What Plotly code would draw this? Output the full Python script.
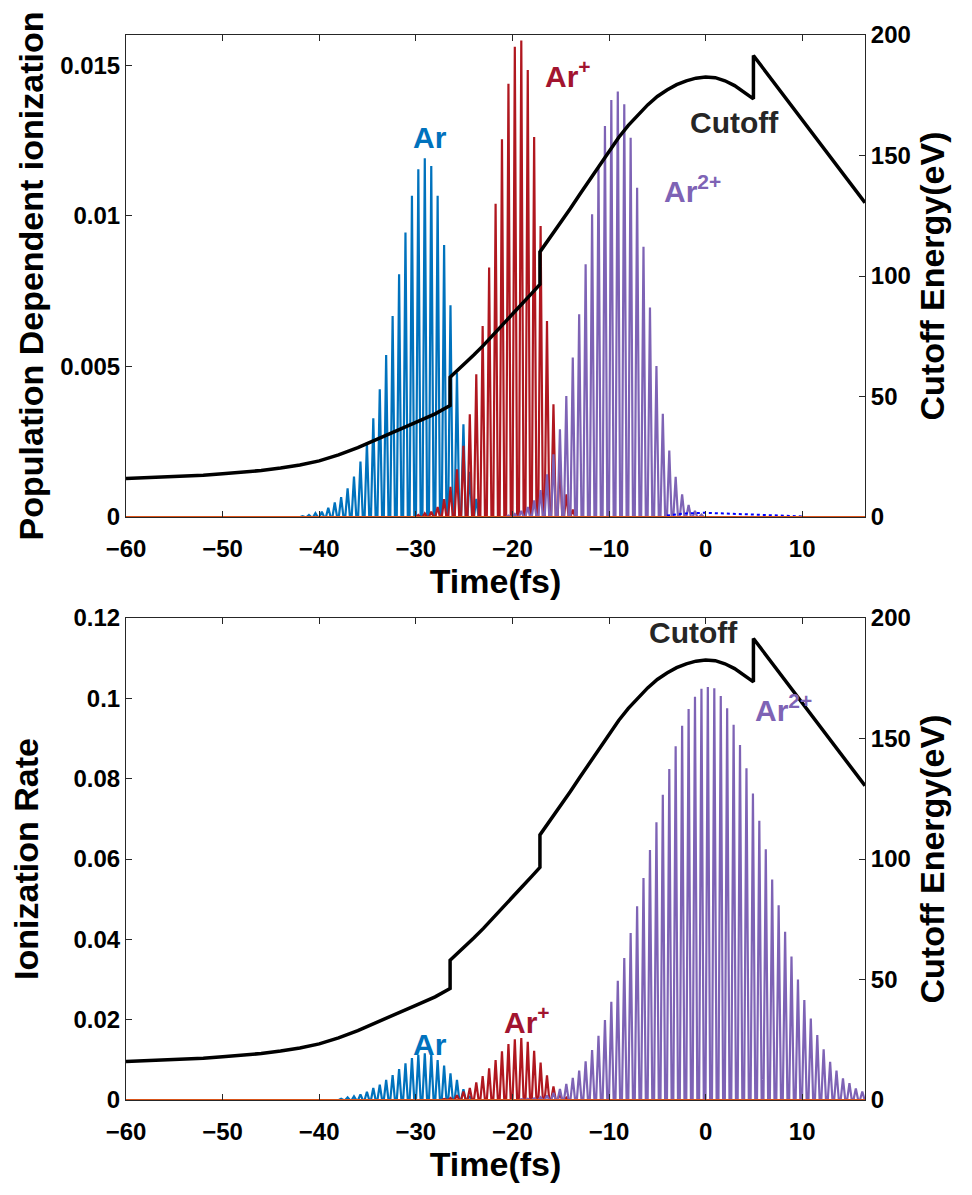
import plotly.graph_objects as go

# burst times (fs) and peak heights
AR_T = [-41.72, -41.06, -40.39, -39.73, -39.06, -38.39, -37.73, -37.06, -36.40, -35.73,
        -35.06, -34.40, -33.73, -33.07, -32.40, -31.73, -31.07, -30.40, -29.74, -29.07,
        -28.40, -27.74, -27.07, -26.41, -25.74, -25.07, -24.41, -23.74]
AR_POP = [0.00003, 0.00007, 0.00013, 0.00018, 0.00031, 0.00048, 0.00066, 0.00095, 0.00134, 0.00184,
          0.00247, 0.00328, 0.00424, 0.00538, 0.00667, 0.00806, 0.00944, 0.01066, 0.01154, 0.01191,
          0.01165, 0.01066, 0.00903, 0.00703, 0.00479, 0.00308, 0.00150, 0.00060]
AR_RATE = [0.0, 0.0, 0.0, 0.0, 0.00010, 0.00017, 0.00033, 0.00066, 0.00091, 0.00141,
           0.00207, 0.00299, 0.00382, 0.00498, 0.00622, 0.00772, 0.00913, 0.01046, 0.01128, 0.01162,
           0.01128, 0.00996, 0.00855, 0.00664, 0.00500, 0.00270, 0.00100, 0.0]

ARP_T = [-29.74, -29.07, -28.40, -27.74, -27.07, -26.41, -25.74, -25.07, -24.41, -23.74,
         -23.08, -22.41, -21.74, -21.08, -20.41, -19.75, -19.08, -18.41, -17.75, -17.08,
         -16.42, -15.75, -15.08, -14.42, -13.75]
ARP_POP = [0.00007, 0.00012, 0.00018, 0.00033, 0.00059, 0.00100, 0.00158, 0.00236, 0.00341, 0.00474,
           0.00634, 0.00828, 0.01040, 0.01254, 0.01438, 0.01561, 0.01582, 0.01484, 0.01261, 0.00966,
           0.00651, 0.00374, 0.00186, 0.00075, 0.00025]
ARP_RATE = [0.0, 0.0, 0.0, 0.00010, 0.00025, 0.00050, 0.00120, 0.00210, 0.00299, 0.00440,
            0.00597, 0.00788, 0.00996, 0.01211, 0.01394, 0.01510, 0.01543, 0.01452, 0.01228, 0.00929,
            0.00614, 0.00340, 0.00150, 0.00060, 0.0]

AR2_T = [-20.41, -19.75, -19.08, -18.41, -17.75, -17.08, -16.42, -15.75, -15.08, -14.42,
         -13.75, -13.09, -12.42, -11.75, -11.09, -10.42, -9.76, -9.09, -8.42, -7.76,
         -7.09, -6.43, -5.76, -5.09, -4.43, -3.76, -3.10, -2.43, -1.76, -1.10,
         -0.43, 0.23, 0.90, 1.57, 2.23, 2.90, 3.56, 4.23, 4.90, 5.56,
         6.23, 6.89, 7.56, 8.23, 8.89, 9.56, 10.22, 10.89, 11.56, 12.22,
         12.89, 13.55, 14.22, 14.89, 15.55, 16.22]
AR2_POP = [0.00005, 0.00010, 0.00020, 0.00033, 0.00055, 0.00089, 0.00142, 0.00208, 0.00291, 0.00402,
           0.00529, 0.00673, 0.00839, 0.01005, 0.01160, 0.01298, 0.01384, 0.01412, 0.01370, 0.01259,
           0.01093, 0.00897, 0.00695, 0.00501, 0.00343, 0.00221, 0.00133, 0.00075, 0.00040, 0.00020,
           0.00008, 0.0, 0.0, 0.0, 0.0, 0.0, 0.0, 0.0, 0.0, 0.0,
           0.0, 0.0, 0.0, 0.0, 0.0, 0.0, 0.0, 0.0, 0.0, 0.0,
           0.0, 0.0, 0.0, 0.0, 0.0, 0.0]
AR2_RATE = [0.0, 0.0, 0.00020, 0.00030, 0.00040, 0.00070, 0.00110, 0.00180, 0.00274, 0.00398,
            0.00548, 0.00730, 0.00963, 0.01245, 0.01601, 0.01992, 0.02448, 0.02971, 0.03535, 0.04157,
            0.04822, 0.05527, 0.06224, 0.06913, 0.07601, 0.08240, 0.08805, 0.09318, 0.09734, 0.10040,
            0.10240, 0.10280, 0.10250, 0.10060, 0.09750, 0.09340, 0.08840, 0.08260, 0.07630, 0.06950,
            0.06240, 0.05490, 0.04850, 0.04190, 0.03570, 0.03000, 0.02490, 0.02030, 0.01620, 0.01260,
            0.00950, 0.00730, 0.00540, 0.00420, 0.00290, 0.00210]

# small dotted trace near zero after the pulse peak (top panel)
AR3_T = [-4.0, -2.0, 0.0, 2.0, 4.0, 6.0, 8.0, 10.0]
AR3_POP = [0.00005, 0.00012, 0.00014, 0.00012, 0.00010, 0.00007, 0.00004, 0.00002]

# cutoff energy (eV) vs time, with the three jumps
CUT_T = [-60, -58, -56, -54, -52, -50, -48, -46, -44, -42, -40, -38, -36, -34, -32, -30, -28, -26.45,
         -26.45, -25, -24, -23, -22, -21, -20, -19, -18, -17.15,
         -17.15, -16, -15, -14, -13, -12, -11, -10, -9, -8, -7, -6, -5, -4, -3, -2, -1,
         0, 1, 2, 3, 4, 4.95,
         4.95, 16.5]
CUT_E = [16, 16.3, 16.6, 16.9, 17.35, 17.9, 18.5, 19.3, 20.3, 21.6, 23.3, 25.8, 28.8, 32.2, 35.8, 39.3, 42.8, 46.3,
         58, 63.3, 67.2, 71.2, 75.4, 79.7, 84, 88.5, 92.8, 96.5,
         110, 116.5, 122, 128, 134, 140, 146, 152, 157.5, 162.5, 167, 171, 174.5, 177.2, 179.4, 181, 182.1,
         182.6, 182.3, 181, 179, 176.3, 173.5,
         191.5, 130.4]

X_RANGE = [-60, 16.5]
X_TICKS = [-60, -50, -40, -30, -20, -10, 0, 10]

C_AR, C_ARP, C_AR2 = "#0072BD", "#B0171F", "#7E63B5"
C_AXIS = "#262626"
FONT = "Liberation Sans, Arial, sans-serif"
HALF_W = 0.24  # half width of each drawn burst, fs


def spikes(times, heights):
    xs, ys = [], []
    for t, h in zip(times, heights):
        xs += [t - HALF_W, t, t + HALF_W]
        ys += [0.0, h, 0.0]
    return xs, ys


fig = go.Figure()

panels = [
    ("x", "y", "y2", AR_POP, ARP_POP, AR2_POP),
    ("x2", "y3", "y4", AR_RATE, ARP_RATE, AR2_RATE),
]
for xa, ya, yb, ar, arp, ar2 in panels:
    for times, vals, col in [(AR_T, ar, C_AR), (ARP_T, arp, C_ARP), (AR2_T, ar2, C_AR2)]:
        sx, sy = spikes(times, vals)
        fig.add_trace(go.Scatter(x=sx, y=sy, mode="lines", line=dict(color=col, width=2.2),
                                 xaxis=xa, yaxis=ya, showlegend=False, hoverinfo="skip"))
    if ya == "y":
        fig.add_trace(go.Scatter(x=AR3_T, y=AR3_POP, mode="lines",
                                 line=dict(color="#0000FF", width=2, dash="dot"),
                                 xaxis=xa, yaxis=ya, showlegend=False))
    fig.add_trace(go.Scatter(x=X_RANGE, y=[0, 0], mode="lines", line=dict(color="#D95319", width=2),
                             xaxis=xa, yaxis=ya, showlegend=False))
    fig.add_trace(go.Scatter(x=CUT_T, y=CUT_E, mode="lines", line=dict(color="black", width=3.5),
                             xaxis=xa, yaxis=yb, showlegend=False))

tickfont = dict(family=FONT, size=24, color="black", weight="bold")
titlefont = dict(family=FONT, size=34, color="black", weight="bold")
ax_common = dict(showline=True, linecolor=C_AXIS, linewidth=1, ticks="inside", ticklen=6,
                 tickcolor=C_AXIS, showgrid=False, zeroline=False, tickfont=tickfont,
                 automargin=False)

W, H = 972, 1195
# plot area in pixels: x 126..865, top panel y 35..517, bottom panel y 618..1100
L, R, T, B = 126, W - 865, 35, H - 1100
PH = H - T - B
top_dom = [(1100 - 517) / PH, 1.0]
bot_dom = [0.0, (1100 - 618) / PH]

fig.update_layout(
    width=W, height=H, margin=dict(l=L, r=R, t=T, b=B),
    plot_bgcolor="white", paper_bgcolor="white",
    xaxis=dict(domain=[0, 1], anchor="y", range=X_RANGE, tickvals=X_TICKS, mirror="ticks",
               ticklabelstandoff=10,
               title=dict(text="Time(fs)", font=titlefont, standoff=2), **ax_common),
    yaxis=dict(domain=top_dom, anchor="x", range=[0, 0.016], tickvals=[0, 0.005, 0.01, 0.015],
               ticktext=["0", "0.005", "0.01", "0.015"],
               title=dict(text="Population Dependent ionization", font=titlefont, standoff=6), **ax_common),
    yaxis2=dict(overlaying="y", side="right", anchor="x", range=[0, 200], tickvals=[0, 50, 100, 150, 200],
                title=dict(text="Cutoff Energy(eV)", font=titlefont, standoff=10), **ax_common),
    xaxis2=dict(domain=[0, 1], anchor="y3", range=X_RANGE, tickvals=X_TICKS, mirror="ticks",
                ticklabelstandoff=10,
                title=dict(text="Time(fs)", font=titlefont, standoff=2), **ax_common),
    yaxis3=dict(domain=bot_dom, anchor="x2", range=[0, 0.12],
                tickvals=[0, 0.02, 0.04, 0.06, 0.08, 0.1, 0.12],
                ticktext=["0", "0.02", "0.04", "0.06", "0.08", "0.1", "0.12"],
                title=dict(text="Ionization Rate", font=titlefont, standoff=24), **ax_common),
    yaxis4=dict(overlaying="y3", side="right", anchor="x2", range=[0, 200], tickvals=[0, 50, 100, 150, 200],
                title=dict(text="Cutoff Energy(eV)", font=titlefont, standoff=10), **ax_common),
)

labels = [
    ("x", "y", -28.5, 0.0126, "Ar", C_AR),
    ("x", "y", -14.2, 0.0147, "Ar<sup>+</sup>", "#A2142F"),
    ("x", "y", 3.0, 0.0131, "Cutoff", C_AXIS),
    ("x", "y", -1.4, 0.0109, "Ar<sup>2+</sup>", C_AR2),
    ("x2", "y3", -1.3, 0.1165, "Cutoff", C_AXIS),
    ("x2", "y3", 8.1, 0.0976, "Ar<sup>2+</sup>", C_AR2),
    ("x2", "y3", -28.5, 0.0137, "Ar", C_AR),
    ("x2", "y3", -18.5, 0.0199, "Ar<sup>+</sup>", "#A2142F"),
]
for xa, ya, x, y, txt, col in labels:
    fig.add_annotation(x=x, y=y, xref=xa, yref=ya, text=txt, showarrow=False,
                       font=dict(family=FONT, size=30, color=col, weight="bold"))

# drop the browser's default body margin so the figure sits at the page origin
fig.write_html("out.html", config={"displayModeBar": False},
               post_script="document.body.style.margin='0';")
